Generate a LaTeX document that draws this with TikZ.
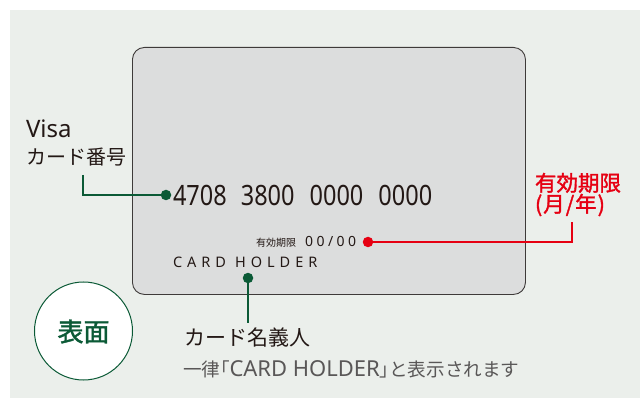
\documentclass[tikz,border=0pt]{standalone}
\usepackage{fontspec}
\newfontfamily\jp{Noto Sans CJK JP}
\newfontfamily\jpb[FakeBold=1.6]{Noto Sans CJK JP}
\newfontfamily\jpp[RawFeature=+palt]{Noto Sans CJK JP}
\newfontfamily\lat{Noto Sans}
\newfontfamily\cardnum[FakeStretch=0.84]{Noto Sans}
\definecolor{bgc}{HTML}{EBEFEB}
\definecolor{cardc}{HTML}{DCDDDD}
\definecolor{cardedge}{HTML}{3E3A39}
\definecolor{dgreen}{HTML}{0B5A36}
\definecolor{vred}{HTML}{E60012}
\definecolor{tdark}{HTML}{231815}
\definecolor{tgray}{HTML}{595757}
\newcommand\lsk{\kern5pt}
\newcommand\lsd{\kern3.5pt}
\tikzset{
  txt/.style={inner sep=0pt, outer sep=0pt, anchor=base west, text=tdark},
  dotg/.style={circle, fill=dgreen, inner sep=0pt, minimum size=10.5pt},
  dotr/.style={circle, fill=vred, inner sep=0pt, minimum size=10.5pt},
  gline/.style={draw=dgreen, line width=2pt},
  rline/.style={draw=vred, line width=2pt},
}
\begin{document}
\begin{tikzpicture}[x=1pt,y=-1pt]
\useasboundingbox (0,0) rectangle (640,398);
\fill[white] (0,0) rectangle (640,398);
\fill[bgc] (10,10) rectangle (640,398);
% card
\node[draw=cardedge, fill=cardc, line width=0.9pt, rounded corners=12pt,
      minimum width=393pt, minimum height=247pt, inner sep=0pt, anchor=north west] (card) at (132,47) {};
% labels left
\node[txt] (visa) at (26,138) {\lat\fontsize{24}{26}\selectfont Visa};
\node[txt] (cno) at (26,165) {\jp\fontsize{20}{24}\selectfont カード番号};
% card number
\node[txt] (num) at (173,206) {\cardnum\fontsize{28}{32}\selectfont 4708\hspace{14pt}3800\hspace{15pt}0000\hspace{15pt}0000};
% expiry on card
\node[txt] (explab) at (256,247) {\jp\fontsize{10}{12}\selectfont 有効期限};
\node[txt] (expval) at (305,247) {\lat\fontsize{14}{16}\selectfont 0\lsd0\lsd/\lsd0\lsd0};
% card holder on card
\node[txt] (holder) at (173,267) {\lat\fontsize{14.5}{16}\selectfont C\lsk A\lsk R\lsk D\lsk\kern4pt H\lsk O\lsk L\lsk D\lsk E\lsk R};
% red label
\node[txt, text=vred] (redl1) at (535,191) {\jpb\fontsize{21.5}{24}\selectfont 有効期限};
\node[txt, text=vred] (redl2) at (535,212) {\jpb\fontsize{21.5}{24}\selectfont (\kern1pt 月\kern1pt/\kern1pt 年\kern1pt)};
% bottom labels
\node[txt] (nm1) at (184,345) {\jp\fontsize{21}{24}\selectfont カード名義人};
\node[txt, text=tgray] (nm2) at (183,376) {\jp\fontsize{18.6}{20}\selectfont 一律{\jpp 「}{\lat\fontsize{22}{22}\selectfont CARD HOLDER}{\jpp 」}と表示されます};
% face circle
\node[circle, draw=dgreen, fill=white, line width=1pt, minimum size=98pt, inner sep=0pt] (face) at (83.5,331) {};
\node[txt, anchor=center, text=dgreen] (facet) at (83.5,331.5) {\jpb\fontsize{26}{30}\selectfont 表面};
% connectors
\node[dotg] (d1) at (166,195) {};
\coordinate (c1) at (83,175);
\draw[gline] (c1) |- (d1.center);
\node[dotr] (d2) at (368,242) {};
\coordinate (c2) at (572,222);
\draw[rline] (d2.center) -| (c2);
\node[dotg] (d3) at (248,278) {};
\coordinate (c3) at (248,323);
\draw[gline] (d3.center) -- (c3);
\end{tikzpicture}
\end{document}
